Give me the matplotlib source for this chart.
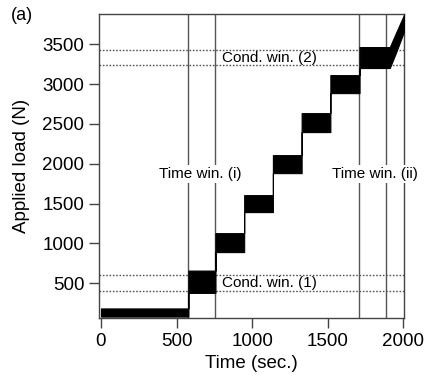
import numpy as np
import matplotlib
matplotlib.use("Agg")
import matplotlib.pyplot as plt

plt.rcParams['font.family'] = ['Liberation Sans', 'DejaVu Sans']

# Load steps: start/end times (s) and band low/high (N)
step_start = [0, 578, 757, 947, 1137, 1327, 1517, 1710]
step_end = [578, 757, 947, 1137, 1327, 1517, 1710, 1910]
step_low = [83, 380, 892, 1394, 1883, 2398, 2887, 3202]
step_high = [185, 660, 1130, 1607, 2109, 2636, 3113, 3465]

# Final ramp band
ramp_time = [1910, 1950, 2004]
ramp_low = [3202, 3390, 3660]
ramp_high = [3465, 3640, 3870]

time_windows = [576, 753, 1707, 1885]
cond_windows = [410, 610, 3235, 3430]

fig = plt.figure(figsize=(4.27, 3.83), dpi=100)
ax = fig.add_axes([99/427, 1-318/383, (404-99)/427, (318-14)/383])

t = np.ravel(np.column_stack([step_start, step_end]))
lo = np.repeat(step_low, 2)
hi = np.repeat(step_high, 2)
t = np.concatenate([t, ramp_time])
lo = np.concatenate([lo, ramp_low])
hi = np.concatenate([hi, ramp_high])
ax.fill_between(t, lo, hi, color='black', lw=0.8, edgecolor='black', zorder=3)

for x in time_windows:
    ax.axvline(x, color='#555555', lw=1.0, zorder=2)
for y in cond_windows:
    ax.axhline(y, color='#555555', lw=1.0, ls=(0, (1.2, 1.2)), zorder=2)

bb = dict(facecolor='white', edgecolor='none', pad=1.5)
ax.text(655, 1870, 'Time win. (i)', ha='center', va='center', fontsize=11, bbox=bb, zorder=4)
ax.text(1812, 1870, 'Time win. (ii)', ha='center', va='center', fontsize=11, bbox=bb, zorder=4, clip_on=False)
ax.text(1114, 3322, 'Cond. win. (2)', ha='center', va='center', fontsize=11, zorder=4)
ax.text(1114, 505, 'Cond. win. (1)', ha='center', va='center', fontsize=11, zorder=4)

ax.set_xlim(-13, 2004)
ax.set_ylim(65, 3880)
ax.set_xticks([0, 500, 1000, 1500, 2000])
ax.set_yticks([500, 1000, 1500, 2000, 2500, 3000, 3500])
ax.tick_params(axis='both', direction='out', length=7, width=1, color='#444444',
               labelsize=13.5, pad=3.5)
for s in ax.spines.values():
    s.set_color('#444444')
    s.set_linewidth(1.0)

ax.set_xlabel('Time (sec.)', fontsize=13.5, labelpad=4)
ax.set_ylabel('Applied load (N)', fontsize=13.5, labelpad=9)
fig.text(11/427, 1-15/383, '(a)', fontsize=13, va='center', ha='left')

fig.savefig('out.png', dpi=100)
